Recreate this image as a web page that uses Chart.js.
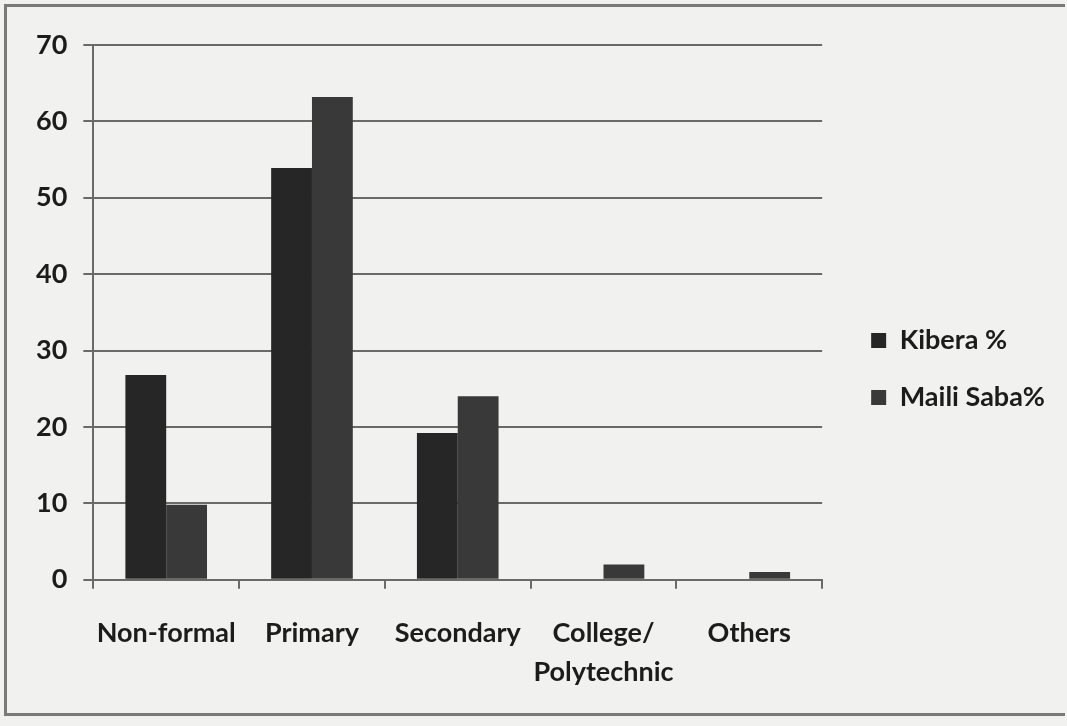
<!DOCTYPE html>
<html>
<head>
<meta charset="utf-8">
<script src="https://cdn.jsdelivr.net/npm/chart.js@4.4.1/dist/chart.umd.min.js"></script>
<style>
  html, body { margin: 0; padding: 0; background: #f1f1f0; }
  #frame {
    position: absolute; left: 4px; top: 4px; width: 1061px; height: 712px;
    border: 3px solid #7a7a7a; border-right: none; box-sizing: border-box;
  }
  canvas { position: absolute; left: 0; top: 0; }
</style>
</head>
<body>
<div id="frame"></div>
<canvas id="chartEducacao" width="1067" height="726"></canvas>
<script>
// Nivel de educacao por local
const categorias = ['Non-formal', 'Primary', 'Secondary', ['College/', 'Polytechnic'], 'Others'];
const kibera = [26.8, 53.9, 19.2, 0, 0];
const mailiSaba = [9.8, 63.2, 24.0, 2.0, 1.0];
const yTicks = [0, 10, 20, 30, 40, 50, 60, 70];

const fonte = { family: 'Lato, "Open Sans", sans-serif', size: 27, weight: 'bold' };
const corLinha = '#6a6a6a';

// afasta a legenda um pouco do grafico
const afastaLegenda = {
  id: 'afastaLegenda',
  afterLayout(chart) {
    const leg = chart.legend;
    leg.left += 19;
    leg.right += 19;
    leg.top -= 12;
    leg.bottom -= 12;
  }
};

const ctx = document.getElementById('chartEducacao').getContext('2d');
new Chart(ctx, {
  type: 'bar',
  data: {
    labels: categorias,
    datasets: [{
      label: 'Kibera %',
      data: kibera,
      backgroundColor: '#262626'
    }, {
      label: 'Maili Saba%',
      data: mailiSaba,
      backgroundColor: '#393939'
    }]
  },
  options: {
    responsive: false,
    animation: false,
    categoryPercentage: 0.56,
    barPercentage: 1,
    layout: {
      padding: { left: 20, top: 45, right: 31, bottom: 9 }
    },
    scales: {
      x: {
        grid: {
          display: true,
          drawOnChartArea: false,
          drawTicks: true,
          tickLength: 9,
          color: corLinha,
          lineWidth: 2
        },
        border: { display: true, color: corLinha, width: 2 },
        ticks: {
          color: '#1c1c1c',
          font: { ...fonte, lineHeight: 1.45 },
          padding: 25,
          maxRotation: 0,
          autoSkip: false
        }
      },
      y: {
        min: 0,
        max: 70,
        afterBuildTicks: (axis) => {
          axis.ticks = yTicks.map(v => ({ value: v }));
        },
        grid: {
          color: corLinha,
          lineWidth: 2,
          tickLength: 10
        },
        border: { display: true, color: corLinha, width: 2 },
        ticks: {
          color: '#1c1c1c',
          font: fonte,
          padding: 16
        }
      }
    },
    plugins: {
      legend: {
        position: 'right',
        labels: {
          color: '#1c1c1c',
          font: fonte,
          boxWidth: 15,
          boxHeight: 15,
          padding: 30
        }
      },
      tooltip: { enabled: false }
    }
  },
  plugins: [afastaLegenda]
});
</script>
</body>
</html>
